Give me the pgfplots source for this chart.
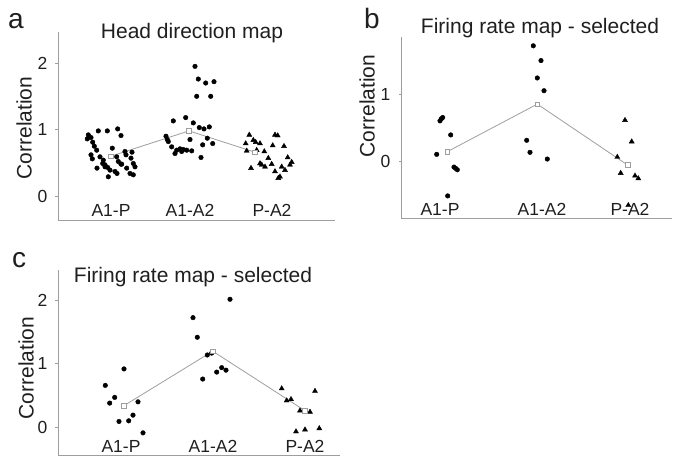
\documentclass[border=0pt]{standalone}
\usepackage{fontspec}
\setmainfont{Liberation Sans}
\usepackage{pgfplots}
\pgfplotsset{compat=1.18}

\definecolor{axgray}{gray}{0.62}
\definecolor{txt}{gray}{0.12}

\pgfplotsset{
  panel/.style={
    x=1pt,
    anchor=south west,
    axis x line*=bottom, axis y line*=left,
    axis line style={axgray, line width=0.8pt},
    x axis line style={-}, y axis line style={-},
    xtick=\empty,
    ytick={0,1,2},
    tick align=outside,
    major tick length=2.5pt,
    tick style={axgray, line width=0.8pt},
    yticklabel style={font=\fontsize{17.5}{17.5}\selectfont, text=txt, inner sep=0pt, xshift=-8pt},
    /pgf/number format/assume math mode=true,
    clip=false,
  },
  dots/.style={only marks, mark=*, mark size=2.3pt, black},
  tris/.style={only marks, mark=triangle*, mark size=2.9pt, black},
  meanline/.style={axgray, line width=0.8pt, no marks},
  meanbox/.style={only marks, mark=square*, mark size=2.3pt, mark options={fill=white, draw=axgray, line width=0.6pt}},
}
\tikzset{
  cat/.style={anchor=base, text=txt, font=\fontsize{17.5}{17.5}\selectfont, inner sep=0pt},
  ttl/.style={anchor=base, text=txt, font=\fontsize{21}{21}\selectfont, inner sep=0pt},
  ylab/.style={rotate=90, text=txt, font=\fontsize{21}{21}\selectfont, inner sep=0pt},
  letter/.style={anchor=base west, text=txt, font=\fontsize{28}{28}\selectfont, inner sep=0pt},
}

\begin{document}
\begin{tikzpicture}
\useasboundingbox (0pt,0pt) rectangle (673pt,-459pt);

% ---------- a: head direction map
\begin{axis}[panel, at={(58pt,-220pt)}, xmin=58, xmax=335, y=66.5pt, ymin=-0.36, ymax=2.47]
\addplot[meanline] coordinates {(111,0.60) (189,0.98) (255,0.66)};
\addplot[dots] coordinates {
 (88.3,0.92) (87.3,0.86) (91,0.88) (92.7,0.81) (98.3,0.98) (107.3,0.98)
 (117.7,1.01) (121,0.91) (94.3,0.75) (96.7,0.69) (112.3,0.72) (125,0.67)
 (126,0.62) (91,0.62) (92.3,0.56) (102.7,0.49) (105,0.47) (107.7,0.43)
 (110,0.39) (115,0.37) (108.3,0.29) (118.3,0.52) (121.7,0.48) (126.7,0.42)
 (131,0.57) (133.3,0.49) (135,0.44) (130,0.34) (133.3,0.32) (103.3,0.54)
 (116.7,0.59) (121,0.48) (100,0.59) (97,0.42) (105,0.44) (117,0.34) (132,0.66)
};
\addplot[dots] coordinates {
 (195,1.95) (198.3,1.76) (205.7,1.70) (214,1.72) (196.7,1.50) (210.7,1.50)
 (173.3,1.13) (185.7,1.18) (193.3,1.10) (199.3,1.03) (204,1.01) (209.3,1.04)
 (166,0.90) (167.3,0.85) (190,0.85) (207.3,0.87) (212.7,0.79) (202.7,0.77)
 (171.7,0.74) (176.7,0.69) (180,0.71) (183.3,0.70) (186.7,0.69) (191.7,0.68)
 (175,0.64) (181.7,0.67) (201,0.58) (168.3,0.82)
};
\addplot[tris] coordinates {
 (249.3,0.92) (275,0.92) (277.7,0.91) (253.3,0.84) (255.7,0.81) (245.7,0.79)
 (260,0.79) (272.7,0.76) (284,0.75) (246.7,0.68) (256.7,0.69) (264.3,0.67)
 (268.3,0.57) (287.7,0.58) (251,0.42) (260,0.49) (265,0.44) (271.7,0.48)
 (281.7,0.44) (290,0.47) (291.7,0.51) (285,0.39) (275,0.37) (278.3,0.27)
 (280,0.29) (261.7,0.47)
};
\addplot[meanbox] coordinates {(111,0.60) (189,0.98) (255,0.66)};
\end{axis}

% ---------- b: firing rate map - selected
\begin{axis}[panel, at={(401pt,-218pt)}, xmin=401, xmax=672, y=67pt, ymin=-0.85, ymax=1.85, ytick={0,1}]
\addplot[meanline] coordinates {(447.3,0.14) (537.3,0.85) (627.7,-0.06)};
\addplot[dots] coordinates {
 (442.7,0.65) (440,0.60) (441.3,0.63) (450.7,0.39) (436.7,0.10)
 (454,-0.09) (457.3,-0.13) (455.7,-0.11) (447.7,-0.52)
};
\addplot[dots] coordinates {
 (533.3,1.72) (541,1.50) (537.3,1.24) (544,1.05) (526.7,0.31) (530,0.13) (547.3,0.03)
};
\addplot[tris] coordinates {
 (625,0.61) (631.7,0.29) (617.3,0.06) (620.7,-0.18) (635,-0.22) (638.3,-0.26) (628.3,-0.66)
};
\addplot[meanbox] coordinates {(447.3,0.14) (537.3,0.85) (627.7,-0.06)};
\end{axis}

% ---------- c: firing rate map - selected
\begin{axis}[panel, at={(58pt,-455pt)}, xmin=58, xmax=340, y=63.3pt, ymin=-0.44, ymax=2.48]
\addplot[meanline] coordinates {(124,0.34) (212.7,1.20) (305,0.26)};
\addplot[dots] coordinates {
 (124,0.92) (105.3,0.66) (114.7,0.47) (109.7,0.38) (138,0.40)
 (133,0.19) (119,0.09) (128.7,0.10) (143,-0.09)
};
\addplot[dots] coordinates {
 (193,1.73) (197.3,1.42) (230,2.02) (207.3,1.14) (211.7,1.17)
 (202.7,0.76) (216.7,0.87) (221.7,0.94) (226,0.90)
};
\addplot[tris] coordinates {
 (281.7,0.61) (286.7,0.42) (291,0.44) (300,0.26) (310,0.24)
 (315,0.57) (296,-0.07) (305,-0.04) (319.3,-0.02)
};
\addplot[meanbox] coordinates {(124,0.34) (212.7,1.20) (305,0.26)};
\end{axis}

% titles, labels, panel letters
\node[letter] at (8pt,-28pt) {a};
\node[letter] at (364pt,-28pt) {b};
\node[letter] at (12pt,-267pt) {c};

\node[ttl] at (192pt,-38pt) {Head direction map};
\node[ttl] at (540pt,-33pt) {Firing rate map - selected};
\node[ttl] at (193pt,-282pt) {Firing rate map - selected};

\node[ylab] at (24pt,-128pt) {Correlation};
\node[ylab] at (367pt,-106pt) {Correlation};
\node[ylab] at (26pt,-368pt) {Correlation};

\node[cat] at (111pt,-216pt) {A1-P};
\node[cat] at (190pt,-216pt) {A1-A2};
\node[cat] at (272pt,-216pt) {P-A2};
\node[cat] at (440pt,-215pt) {A1-P};
\node[cat] at (542pt,-215pt) {A1-A2};
\node[cat] at (630pt,-215pt) {P-A2};
\node[cat] at (121pt,-452pt) {A1-P};
\node[cat] at (213pt,-452pt) {A1-A2};
\node[cat] at (305pt,-452pt) {P-A2};
\end{tikzpicture}
\end{document}
